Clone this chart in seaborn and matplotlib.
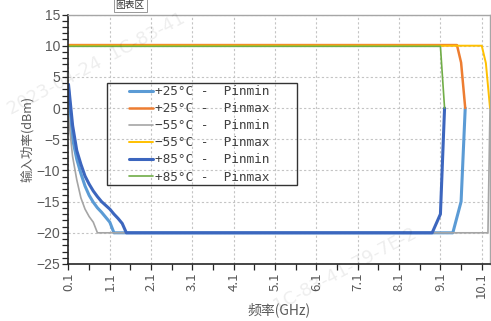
import matplotlib
matplotlib.use("Agg")
import matplotlib.pyplot as plt
from matplotlib.ticker import MultipleLocator, FixedLocator
from matplotlib.patches import Rectangle
import numpy as np
import pandas as pd
import seaborn as sns

# ---- data ----
f_p25_min = [0.1, 0.2, 0.3, 0.4, 0.5, 0.6, 0.7, 0.8, 0.9, 1.0, 1.1, 1.2, 9.4, 9.5, 9.6, 9.7]
p_p25_min = [3.0, -5.0, -8.2, -10.5, -12.5, -14.0, -15.1, -16.0, -16.7, -17.5, -18.3, -20.0,
             -20.0, -17.5, -15.0, 0.0]

f_p25_max = [0.1, 9.5, 9.6, 9.7]
p_p25_max = [10.1, 10.1, 7.3, 0.0]

f_m55_min = [0.1, 0.2, 0.3, 0.4, 0.5, 0.6, 0.7, 0.8, 10.25, 10.3]
p_m55_min = [-1.5, -7.8, -11.5, -14.4, -16.2, -17.4, -18.3, -20.0, -20.0, 0.0]

f_m55_max = [0.1, 10.1, 10.2, 10.3]
p_m55_max = [10.0, 10.0, 7.2, 0.0]

f_p85_min = [0.1, 0.2, 0.3, 0.4, 0.5, 0.6, 0.7, 0.8, 0.9, 1.0, 1.1, 1.2, 1.3, 1.4, 1.5,
             8.9, 9.1, 9.2]
p_p85_min = [3.8, -2.8, -6.8, -9.0, -10.9, -12.2, -13.3, -14.2, -15.0, -15.6, -16.2, -17.0,
             -17.7, -18.5, -20.0, -20.0, -17.0, 0.0]

f_p85_max = [0.1, 9.1, 9.2]
p_p85_max = [9.9, 9.9, 0.0]

labels = ["+25°C -  Pinmin", "+25°C -  Pinmax", "−55°C -  Pinmin",
          "−55°C -  Pinmax", "+85°C -  Pinmin", "+85°C -  Pinmax"]
colors = ["#5B9BD5", "#ED7D31", "#A5A5A5", "#FFC000", "#3C66BE", "#70AD47"]
widths = [2.2, 1.8, 1.2, 1.4, 2.2, 1.2]

xticks = [0.1, 1.1, 2.1, 3.1, 4.1, 5.1, 6.1, 7.1, 8.1, 9.1, 10.1]
xticklabels = ["0.1", "1.1", "2.1", "3.1", "4.1", "5.1", "6.1", "7.1", "8.1", "9.1", "10.1"]
yticks = [-25, -20, -15, -10, -5, 0, 5, 10, 15]

series = [(f_p25_min, p_p25_min), (f_p25_max, p_p25_max), (f_m55_min, p_m55_min),
          (f_m55_max, p_m55_max), (f_p85_min, p_p85_min), (f_p85_max, p_p85_max)]

frames = []
for lab, (f, p) in zip(labels, series):
    frames.append(pd.DataFrame({"freq": f, "pin": p, "series": lab}))
df = pd.concat(frames, ignore_index=True)

# ---- style ----
sns.set_theme(style="white")
plt.rcParams["font.family"] = ["Liberation Sans", "Noto Sans CJK SC", "DejaVu Sans"]
plt.rcParams["axes.unicode_minus"] = True

fig, ax = plt.subplots(figsize=(4.91, 3.21), dpi=100)
fig.subplots_adjust(left=0.1395, right=0.998, bottom=0.1776, top=0.9548)

handles = []
for lab, c, w in zip(labels, colors, widths):
    sub = df[df["series"] == lab]
    sns.lineplot(data=sub, x="freq", y="pin", ax=ax, color=c, linewidth=w,
                 sort=False, estimator=None, legend=False)
    handles.append(ax.lines[-1])

ax.set_xlim(0.1, 10.3)
ax.set_ylim(-25, 15)
ax.set_xticks(xticks)
ax.set_xticklabels(xticklabels, rotation=90, fontsize=9.5, color="#595959",
                   family=["Noto Sans CJK SC", "DejaVu Sans"])
ax.xaxis.set_minor_locator(FixedLocator([t + 0.5 for t in xticks]))
ax.set_yticks(yticks)
ax.yaxis.set_minor_locator(MultipleLocator(1))
ax.tick_params(axis="y", which="major", labelsize=10, labelcolor="#595959")
ax.tick_params(which="both", direction="out", length=4, width=0.9, color="#262626",
               bottom=True, left=True, pad=2)

ax.grid(True, which="major", linestyle=(0, (2, 2)), color="#c4c4c4", linewidth=0.8)
ax.set_axisbelow(True)

for s in ["left", "bottom"]:
    ax.spines[s].set_color("#262626")
    ax.spines[s].set_linewidth(1.2)
for s in ["top", "right"]:
    ax.spines[s].set_color("#a6a6a6")
    ax.spines[s].set_linewidth(1.0)

ax.set_xlabel("频率(GHz)", fontsize=10, color="#595959",
              family=["Noto Sans CJK SC", "DejaVu Sans"], labelpad=3)
ax.set_ylabel("输入功率(dBm)", fontsize=9, color="#595959",
              family=["Noto Sans CJK SC", "DejaVu Sans"], labelpad=2)

# legend (transparent, with a separate frame)
leg = ax.legend(handles, labels, loc="upper left", bbox_to_anchor=(0.143, 0.717),
                frameon=False, prop={"family": ["DejaVu Sans Mono", "DejaVu Sans"], "size": 9.2},
                handlelength=1.9, handletextpad=0.15, borderpad=0.0,
                labelspacing=0.32, borderaxespad=0)
for t in leg.get_texts():
    t.set_color("#404040")
ax.add_patch(Rectangle((0.0913, 0.3166), 0.4508, 0.409, transform=ax.transAxes,
                       fill=False, edgecolor="#333333", linewidth=1.0, zorder=5))

# tooltip & watermark present in the reference screenshot
fig.text(0.265, 0.985, "图表区", fontsize=7, color="#333333", ha="center", va="center",
         family=["Noto Sans CJK SC"],
         bbox=dict(boxstyle="square,pad=0.2", fc="white", ec="#888888", lw=0.6))
fig.text(0.01, 0.63, "2023-04-24  1C-83-41", fontsize=13, color="#000000", alpha=0.07,
         rotation=28, ha="left", va="bottom", family=["DejaVu Sans"])
fig.text(0.55, 0.02, "1C-83-41-79-7E-2", fontsize=13, color="#000000", alpha=0.07,
         rotation=28, ha="left", va="bottom", family=["DejaVu Sans"])

fig.savefig("out.png", dpi=100)
